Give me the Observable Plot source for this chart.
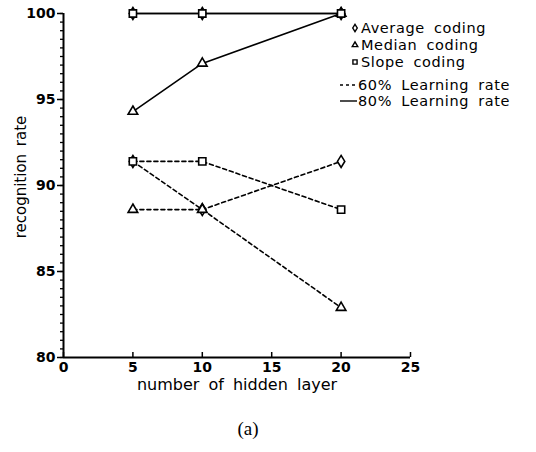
<!DOCTYPE html>
<html><head><meta charset="utf-8">
<script src="https://cdn.jsdelivr.net/npm/d3@7"></script>
<script src="https://cdn.jsdelivr.net/npm/@observablehq/plot@0.6"></script>
<style>
body{margin:0;background:#fff;}
#wrap{position:relative;width:536px;height:452px;background:#fff;}
#cap{position:absolute;left:0;width:496px;top:418px;text-align:center;font-family:"Liberation Serif","DejaVu Serif",serif;font-size:19px;color:#000;}
</style></head><body>
<div id="wrap"><div id="chart"></div><div id="cap">(a)</div></div>
<script>
// ---- data ----
const hidden = [5, 10, 20];
const avg60 = [91.4, 88.6, 91.4];
const med60 = [88.6, 88.6, 82.9];
const slope60 = [91.4, 91.4, 88.6];
const avg80 = [100, 100, 100];
const med80 = [94.3, 97.1, 100];
const slope80 = [100, 100, 100];
const codings = ["Average coding", "Median coding", "Slope coding"];
const rates = ["60% Learning rate", "80% Learning rate"];
const xTicks = [0, 5, 10, 15, 20, 25];
const yTicks = [80, 85, 90, 95, 100];
const xLabel = "number of hidden layer";
const yLabel = "recognition rate";

// tall narrow diamond like the original
const tallDiamond = {
  draw(ctx, size) {
    const r = Math.sqrt(size / Math.PI);
    const w = r * 0.8, h = r * 1.3;
    ctx.moveTo(0, -h); ctx.lineTo(w, 0); ctx.lineTo(0, h); ctx.lineTo(-w, 0); ctx.closePath();
  }
};

const series = [
  {coding: codings[0], rate: rates[0], values: avg60},
  {coding: codings[1], rate: rates[0], values: med60},
  {coding: codings[2], rate: rates[0], values: slope60},
  {coding: codings[0], rate: rates[1], values: avg80},
  {coding: codings[1], rate: rates[1], values: med80},
  {coding: codings[2], rate: rates[1], values: slope80}
];
const rows = series.flatMap(s => hidden.map((h, i) => ({h, v: s.values[i], coding: s.coding, rate: s.rate, key: s.coding + "|" + s.rate})));

const font = "DejaVu Sans";
const plot = Plot.plot({
  width: 536, height: 400,
  marginLeft: 63, marginRight: 126, marginTop: 13, marginBottom: 43,
  x: {domain: [0, 25]},
  y: {domain: [80, 100]},
  symbol: {domain: codings, range: [tallDiamond, "triangle2", "square2"]},
  style: {fontFamily: font, fontSize: "14px", color: "black", background: "white", overflow: "visible"},
  marks: [
    Plot.axisY({ticks: d3.range(80, 100.01, 0.5), tickSize: 3, tickFormat: () => "", label: null, strokeWidth: 1.3}),
    Plot.axisY({ticks: yTicks, tickSize: 6, tickPadding: 2, fontWeight: "bold", fontSize: 14, label: null, strokeWidth: 1.5}),
    Plot.axisX({ticks: xTicks, tickSize: -5, tickPadding: 10, fontWeight: "bold", fontSize: 14, label: null, strokeWidth: 1.5}),
    Plot.ruleY([80], {strokeWidth: 2}),
    Plot.ruleX([0], {strokeWidth: 2}),
    Plot.line(rows.filter(d => d.rate === rates[0]), {x: "h", y: "v", z: "key", stroke: "black", strokeWidth: 1.6, strokeDasharray: "4,3"}),
    Plot.line(rows.filter(d => d.rate === rates[1]), {x: "h", y: "v", z: "key", stroke: "black", strokeWidth: 1.6}),
    Plot.dot(rows, {x: "h", y: "v", symbol: "coding", r: 4.6, stroke: "black", fill: "white", strokeWidth: 1.6})
  ]
});
document.getElementById("chart").appendChild(plot);

const svg = d3.select(plot);
// ---- axis titles ----
svg.append("text").attr("transform", "translate(21,177) rotate(-90)")
  .attr("text-anchor", "middle").attr("dy", "0.35em").attr("font-family", font).attr("font-size", 15)
  .attr("word-spacing", 3).attr("fill", "black").text(yLabel);
svg.append("text").attr("x", 237).attr("y", 384)
  .attr("text-anchor", "middle").attr("dy", "0.35em").attr("font-family", font).attr("font-size", 16)
  .attr("word-spacing", 4).attr("fill", "black").text(xLabel);

// ---- legend ----
const lg = svg.append("g").attr("font-family", font).attr("font-size", 14.5).attr("fill", "black")
  .attr("text-anchor", "start").attr("letter-spacing", 0.6);
const symX = 355, textX = 361;
const rowY = [28, 45, 62, 85, 101];
const legendSyms = [tallDiamond, d3.symbolTriangle2, d3.symbolSquare2];
codings.forEach((c, i) => {
  lg.append("path").attr("transform", `translate(${symX},${rowY[i]})`)
    .attr("d", d3.symbol(legendSyms[i], i === 0 ? 25 : 22)())
    .attr("fill", "none").attr("stroke", "black").attr("stroke-width", 1.4);
  lg.append("text").attr("x", textX).attr("y", rowY[i]).attr("dy", "0.35em").attr("word-spacing", 4).text(c);
});
rates.forEach((r, i) => {
  const y = rowY[3 + i];
  lg.append("line").attr("x1", 340).attr("x2", 357).attr("y1", y).attr("y2", y)
    .attr("stroke", "black").attr("stroke-width", 1.4).attr("stroke-dasharray", i === 0 ? "3,3" : null);
  lg.append("text").attr("x", 358).attr("y", y).attr("dy", "0.35em").attr("word-spacing", 4).text(r);
});
</script>
</body></html>
